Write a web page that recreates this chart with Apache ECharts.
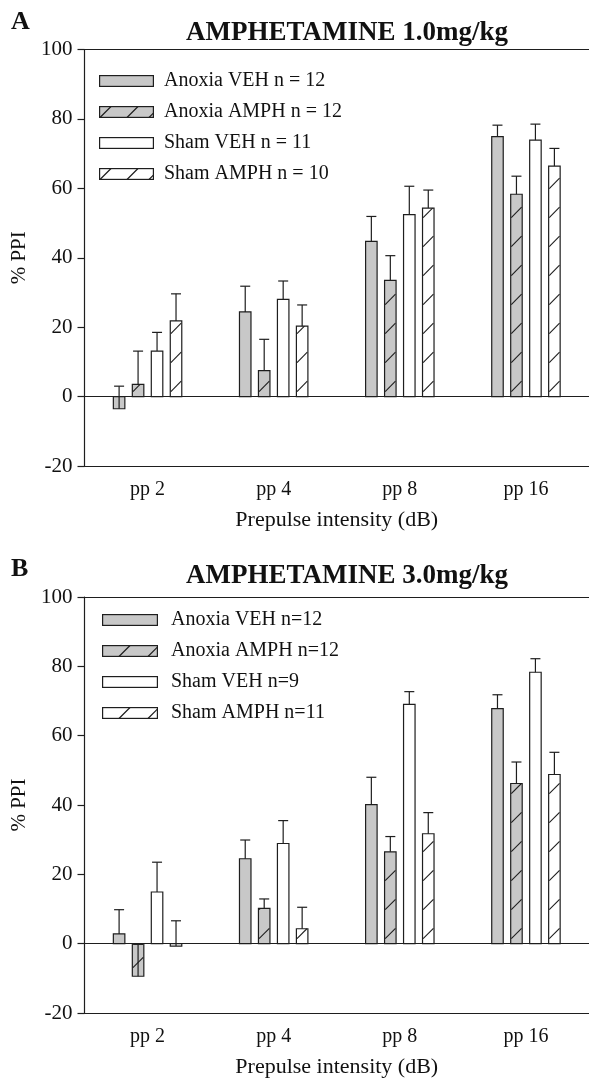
<!DOCTYPE html>
<html>
<head>
<meta charset="utf-8">
<script src="https://cdn.jsdelivr.net/npm/echarts@6/dist/echarts.min.js"></script>
<style>
  html, body { margin: 0; padding: 0; background: #fff; }
  #main { width: 589px; height: 1080px; }
</style>
</head>
<body>
<div id="main"></div>
<script>
// categories (prepulse)
var categories = ['pp 2', 'pp 4', 'pp 8', 'pp 16'];

// panel A - amphetamine 1.0 mg/kg (mean %PPI and SEM)
var aAnoxiaVeh = [-3.5, 24.4, 44.7, 74.9];
var aAnoxiaVehSem = [6.5, 7.4, 7.2, 3.3];
var aAnoxiaAmph = [3.5, 7.5, 33.5, 58.3];
var aAnoxiaAmphSem = [9.6, 9.0, 7.1, 5.2];
var aShamVeh = [13.1, 28.0, 52.4, 73.9];
var aShamVehSem = [5.4, 5.3, 8.2, 4.6];
var aShamAmph = [21.8, 20.3, 54.3, 66.4];
var aShamAmphSem = [7.8, 6.1, 5.2, 5.1];

// panel B - amphetamine 3.0 mg/kg
var bAnoxiaVeh = [2.8, 24.5, 40.1, 67.8];
var bAnoxiaVehSem = [7.0, 5.4, 7.9, 4.0];
var bAnoxiaAmph = [-9.4, 10.2, 26.5, 46.2];
var bAnoxiaAmphSem = [9.2, 2.7, 4.4, 6.2];
var bShamVeh = [14.9, 28.9, 69.0, 78.3];
var bShamVehSem = [8.6, 6.6, 3.7, 3.9];
var bShamAmph = [-0.7, 4.3, 31.7, 48.8];
var bShamAmphSem = [7.3, 6.2, 6.1, 6.4];

var aNames = ['Anoxia VEH n = 12', 'Anoxia AMPH n = 12', 'Sham VEH n = 11', 'Sham AMPH n = 10'];
var bNames = ['Anoxia VEH n=12', 'Anoxia AMPH n=12', 'Sham VEH n=9', 'Sham AMPH n=11'];

var GRAY = '#c8c8c8';
var INK = '#1e1e1e';
var FONT = '"Liberation Serif", "DejaVu Serif", serif';

// legend icon drawn on a small canvas
function legendIcon(fill, hatched, w, rectW, hatchX) {
  var c = document.createElement('canvas');
  c.width = w; c.height = 12;
  var g = c.getContext('2d');
  g.fillStyle = fill;
  g.fillRect(0.5, 0.5, rectW - 1, 11);
  g.strokeStyle = INK;
  g.lineWidth = 1.2;
  if (hatched) {
    g.save();
    g.beginPath(); g.rect(0.5, 0.5, rectW - 1, 11); g.clip();
    g.beginPath();
    hatchX.forEach(function (hx) { g.moveTo(hx, 11.5); g.lineTo(hx + 11, 0.5); });
    g.stroke();
    g.restore();
  }
  g.strokeRect(0.6, 0.6, rectW - 1.2, 10.8);
  return 'image://' + c.toDataURL();
}

function clipHatch(x0, x1, yl, rise, yTop, yBot) {
  var tMin = Math.max(0, (yl - yBot) / rise);
  var tMax = Math.min(1, (yl - yTop) / rise);
  if (tMin >= tMax) return null;
  var w = x1 - x0;
  return { x1: x0 + tMin * w, y1: yl - tMin * rise, x2: x0 + tMax * w, y2: yl - tMax * rise };
}

function makeRender(idx, fill, hatched) {
  return function (params, api) {
    var cat = api.value(0), val = api.value(1), err = api.value(2);
    var lay = api.barLayout({ count: 4, barWidth: 11.5, barGap: '65%' })[idx];
    var base = api.coord([cat, 0]);
    var end = api.coord([cat, val]);
    var errEnd = api.coord([cat, val + err]);
    var cx = base[0] + lay.offsetCenter;
    var x0 = base[0] + lay.offset;
    var x1 = x0 + lay.width;
    var yTop = Math.min(base[1], end[1]);
    var yBot = Math.max(base[1], end[1]);
    var children = [{
      type: 'rect',
      shape: { x: x0, y: yTop, width: lay.width, height: yBot - yTop },
      style: { fill: fill, stroke: INK, lineWidth: 1.2 }
    }];
    if (hatched) {
      var S = 29, rise = lay.width * 0.9;
      for (var k = -4; k < 20; k++) {
        var yl = base[1] - 5 - k * S;
        var seg = clipHatch(x0 + 0.6, x1 - 0.6, yl, rise, yTop, yBot);
        if (seg) children.push({ type: 'line', shape: seg, style: { stroke: INK, lineWidth: 1.1 } });
      }
    }
    children.push({
      type: 'line',
      shape: { x1: cx, y1: end[1], x2: cx, y2: errEnd[1] },
      style: { stroke: INK, lineWidth: 1.2 }
    });
    children.push({
      type: 'line',
      shape: { x1: cx - 5, y1: errEnd[1], x2: cx + 5, y2: errEnd[1] },
      style: { stroke: INK, lineWidth: 1.2 }
    });
    return { type: 'group', children: children };
  };
}

function rows(vals, sems) {
  return categories.map(function (c, i) { return [i, vals[i], sems[i]]; });
}

function panelSeries(names, sets, axisIdx) {
  var styles = [[GRAY, false], [GRAY, true], ['#ffffff', false], ['#ffffff', true]];
  return sets.map(function (s, i) {
    var ser = {
      name: names[i],
      type: 'custom',
      xAxisIndex: axisIdx,
      yAxisIndex: axisIdx,
      renderItem: makeRender(i, styles[i][0], styles[i][1]),
      encode: { x: 0, y: 1 },
      data: rows(s[0], s[1]),
      z: 3
    };
    if (i === 0) {
      ser.markLine = {
        silent: true, symbol: 'none', animation: false,
        label: { show: false },
        lineStyle: { color: INK, width: 1.2, type: 'solid' },
        data: [{ yAxis: 0 }]
      };
    }
    return ser;
  });
}

function xAx(gi) {
  return {
    type: 'category', gridIndex: gi, data: categories,
    name: 'Prepulse intensity (dB)', nameLocation: 'middle', nameGap: 43,
    nameTextStyle: { fontFamily: FONT, fontSize: 22, color: '#111' },
    axisLine: { onZero: false, lineStyle: { color: INK, width: 1.2 } },
    axisTick: { alignWithLabel: true, length: 6, lineStyle: { color: INK, width: 1.2 } },
    axisLabel: { fontFamily: FONT, fontSize: 20, color: '#111', margin: 14 },
    splitLine: { show: false }
  };
}

// top frame line only
function xTop(gi) {
  return {
    type: 'category', gridIndex: gi, data: categories, position: 'top',
    axisLine: { show: true, onZero: false, lineStyle: { color: INK, width: 1.2 } },
    axisTick: { show: false }, axisLabel: { show: false }, splitLine: { show: false }
  };
}

function yAx(gi) {
  return {
    type: 'value', gridIndex: gi, min: -20, max: 100, interval: 20,
    name: '% PPI', nameLocation: 'middle', nameGap: 52, nameRotate: 90,
    nameTextStyle: { fontFamily: FONT, fontSize: 21, color: '#111' },
    axisLine: { show: true, lineStyle: { color: INK, width: 1.2 } },
    axisTick: { show: true, length: 7, lineStyle: { color: INK, width: 1.2 } },
    axisLabel: { fontFamily: FONT, fontSize: 21, color: '#111', margin: 12 },
    splitLine: { show: false }
  };
}

var chart = echarts.init(document.getElementById('main'), null, { renderer: 'canvas' });

var aHatch = [1, 28, 50];
var bHatch = [17, 46];

chart.setOption({
  animation: false,
  backgroundColor: '#ffffff',
  title: [
    { text: 'A', left: 6, top: 4, textStyle: { fontFamily: FONT, fontSize: 26, fontWeight: 'bold', color: '#111' } },
    { text: 'AMPHETAMINE 1.0mg/kg', left: 342, top: 15, textAlign: 'center',
      textStyle: { fontFamily: FONT, fontSize: 27, fontWeight: 'bold', color: '#111' } },
    { text: 'B', left: 6, top: 551, textStyle: { fontFamily: FONT, fontSize: 26, fontWeight: 'bold', color: '#111' } },
    { text: 'AMPHETAMINE 3.0mg/kg', left: 342, top: 558, textAlign: 'center',
      textStyle: { fontFamily: FONT, fontSize: 27, fontWeight: 'bold', color: '#111' } }
  ],
  grid: [
    { left: 84.5, top: 49.5, width: 506, height: 416.5 },
    { left: 84.5, top: 597, width: 506, height: 416 }
  ],
  legend: [
    {
      orient: 'vertical', left: 94, top: 66, itemWidth: 60, itemHeight: 12, itemGap: 11,
      textStyle: { fontFamily: FONT, fontSize: 20, color: '#111' },
      selectedMode: false,
      data: aNames.map(function (n, i) {
        return { name: n, icon: legendIcon(i < 2 ? GRAY : '#ffffff', i % 2 === 1, 60, 55, aHatch) };
      })
    },
    {
      orient: 'vertical', left: 97, top: 605, itemWidth: 64, itemHeight: 12, itemGap: 11,
      textStyle: { fontFamily: FONT, fontSize: 20, color: '#111' },
      selectedMode: false,
      data: bNames.map(function (n, i) {
        return { name: n, icon: legendIcon(i < 2 ? GRAY : '#ffffff', i % 2 === 1, 64, 56, bHatch) };
      })
    }
  ],
  xAxis: [xAx(0), xAx(1), xTop(0), xTop(1)],
  yAxis: [yAx(0), yAx(1)],
  series: panelSeries(aNames, [
    [aAnoxiaVeh, aAnoxiaVehSem], [aAnoxiaAmph, aAnoxiaAmphSem],
    [aShamVeh, aShamVehSem], [aShamAmph, aShamAmphSem]
  ], 0).concat(panelSeries(bNames, [
    [bAnoxiaVeh, bAnoxiaVehSem], [bAnoxiaAmph, bAnoxiaAmphSem],
    [bShamVeh, bShamVehSem], [bShamAmph, bShamAmphSem]
  ], 1))
});
</script>
</body>
</html>
